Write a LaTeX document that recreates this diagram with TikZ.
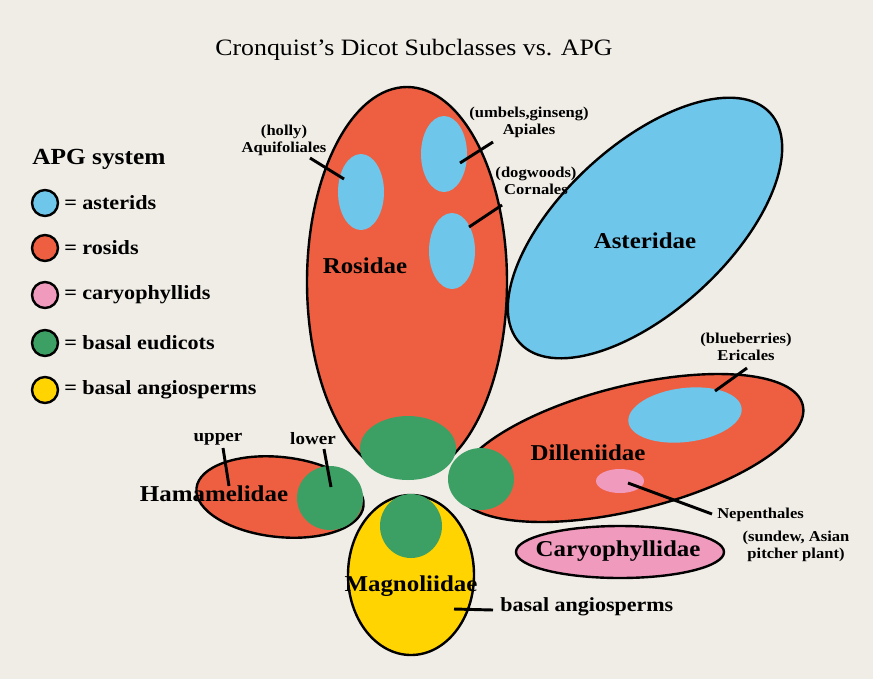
\documentclass[tikz,border=0pt]{standalone}
\usepackage{fontspec}
\setmainfont{Liberation Serif}[FakeStretch=1.1]
\usetikzlibrary{shapes.geometric}
\definecolor{bgc}{HTML}{F0EDE6}
\definecolor{rosc}{HTML}{EE5F41}
\definecolor{astc}{HTML}{6EC6EB}
\definecolor{carc}{HTML}{F09BBE}
\definecolor{eudc}{HTML}{3CA064}
\definecolor{angc}{HTML}{FFD400}
\def\pxu{0.75pt}
\tikzset{
  sz/.style 2 args={minimum width=#1*\pxu, minimum height=#2*\pxu},
  blob/.style={ellipse, draw=black, line width=1.8pt, inner sep=0pt},
  spot/.style={ellipse, inner sep=0pt},
  key/.style={circle, draw=black, line width=1.8pt, inner sep=0pt, minimum size=26*\pxu},
  conn/.style={line width=2.2pt, draw=black},
  small/.style={font=\bfseries\fontsize{11.3}{12.9}\selectfont, align=center, inner sep=0pt},
  mid/.style={font=\bfseries\fontsize{13}{15}\selectfont, inner sep=0pt},
  big/.style={font=\bfseries\fontsize{17}{20}\selectfont, inner sep=0pt},
  legtxt/.style={font=\bfseries\fontsize{15.1}{18}\selectfont, inner sep=0pt, anchor=west},
  ttl/.style={font=\fontsize{17.6}{20}\selectfont, inner sep=0pt}
}
\begin{document}
\begin{tikzpicture}[x=0.75pt, y=-0.75pt]
\useasboundingbox (0,0) rectangle (873,679);
\fill[bgc] (0,0) rectangle (873,679);

% title
\node[ttl] (title) at (414,50) {Cronquist’s Dicot Subclasses vs. APG};

% legend
\node[font=\bfseries\fontsize{17.3}{20}\selectfont, inner sep=0pt, anchor=west] (apg) at (32,159) {APG system};
\node[key, fill=astc] (k1) at (45,203) {};
\node[key, fill=rosc] (k2) at (45,248) {};
\node[key, fill=carc] (k3) at (45,295) {};
\node[key, fill=eudc] (k4) at (45,343) {};
\node[key, fill=angc] (k5) at (45,390) {};
\node[legtxt] (t1) at (64,203) {= asterids};
\node[legtxt] (t2) at (64,248) {= rosids};
\node[legtxt] (t3) at (64,295) {= caryophyllids};
\node[legtxt] (t4) at (64,343) {= basal eudicots};
\node[legtxt] (t5) at (64,390) {= basal angiosperms};

% Rosidae
\node[blob, fill=rosc, sz={200}{390}] (ros) at (407,282) {};
\node[spot, fill=astc, sz={46}{76}] (aquif) at (361,192) {};
\node[spot, fill=astc, sz={46}{76}] (apial) at (444,154) {};
\node[spot, fill=astc, sz={46}{76}] (corna) at (452,251) {};

% Asteridae
\node[blob, fill=astc, sz={340}{166}, rotate=42.6] (ast) at (645,228) {};

% Dilleniidae
\node[blob, fill=rosc, sz={356}{124}, rotate=14] (dil) at (630,448) {};
\node[spot, fill=astc, sz={114}{54}, rotate=7] (eric) at (685,415) {};
\node[spot, fill=carc, sz={48}{24}] (nepe) at (620,481) {};

% Hamamelidae
\node[blob, fill=rosc, sz={168}{80}, rotate=-6] (ham) at (280,497) {};

% Magnoliidae
\node[blob, fill=angc, sz={126}{160}] (mag) at (411,575) {};

% basal eudicot patches
\node[spot, fill=eudc, sz={96}{64}] (g1) at (408,448) {};
\node[spot, fill=eudc, sz={66}{62}] (g2) at (481,479) {};
\node[spot, fill=eudc, sz={66}{64}] (g3) at (330,498) {};
\node[spot, fill=eudc, sz={62}{64}] (g4) at (411,526) {};

% Caryophyllidae
\node[blob, fill=carc, sz={208}{52}] (car) at (620,552) {};

% connector ends
\coordinate (aqA) at (310,158); \coordinate (aqB) at (344,179);
\coordinate (apA) at (493,142); \coordinate (apB) at (460,163);
\coordinate (coA) at (502,205); \coordinate (coB) at (469,227);
\coordinate (erA) at (747,368); \coordinate (erB) at (715,391);
\coordinate (neA) at (628,483); \coordinate (neB) at (712,514);
\coordinate (upA) at (223,448); \coordinate (upB) at (229,486);
\coordinate (loA) at (324,449); \coordinate (loB) at (331,487);
\coordinate (baA) at (454,609); \coordinate (baB) at (493,610);
\draw[conn] (aqA) -- (aqB);
\draw[conn] (apA) -- (apB);
\draw[conn] (coA) -- (coB);
\draw[conn] (erA) -- (erB);
\draw[conn] (neA) -- (neB);
\draw[conn] (upA) -- (upB);
\draw[conn] (loA) -- (loB);
\draw[conn] (baA) -- (baB);

% labels
\node[small] (laq) at (284,140) {(holly)\\Aquifoliales};
\node[small] (lap) at (529,122) {(umbels,ginseng)\\Apiales};
\node[small] (lco) at (536,181) {(dogwoods)\\Cornales};
\node[small] (ler) at (746,347) {(blueberries)\\Ericales};
\node[small, anchor=west] (lne) at (717,515) {Nepenthales};
\node[small] (lne2) at (796,546) {(sundew, Asian\\pitcher plant)};
\node[mid] (lup) at (218,439) {upper};
\node[mid] (llo) at (313,439) {lower};
\node[big] (lros) at (365,266) {Rosidae};
\node[big] (last) at (645,241) {Asteridae};
\node[big] (ldil) at (588,453) {Dilleniidae};
\node[big] (lcar) at (618,551) {Caryophyllidae};
\node[big] (lham) at (214,494) {Hamamelidae};
\node[big] (lmag) at (411,586) {Magnoliidae};
\node[font=\bfseries\fontsize{15}{18}\selectfont, inner sep=0pt, anchor=west] (lba) at (500,607) {basal angiosperms};
\end{tikzpicture}
\end{document}
